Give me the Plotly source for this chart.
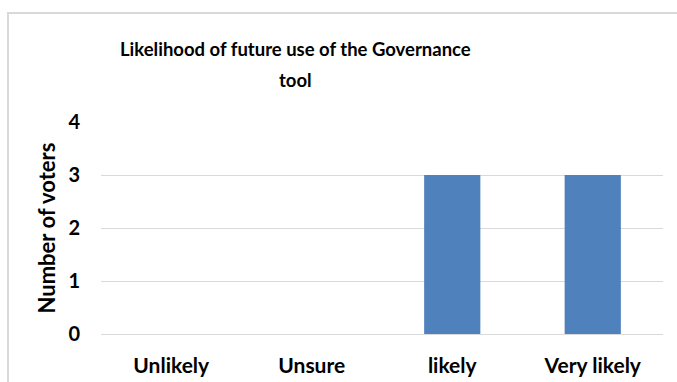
import plotly.graph_objects as go

categories = ["Unlikely", "Unsure", "likely", "Very likely"]
voters = [0, 0, 3, 3]
y_ticks = [0, 1, 2, 3, 4]
title_lines = ["Likelihood of future use of the Governance", "tool"]

FONT = "Lato"
W, H = 677, 382
L, R, T, B = 101, 14, 122, 48
plot_w = W - L - R
plot_h = H - T - B


def px_x(x):
    return (x - L) / plot_w


def px_y(y):
    return (H - B - y) / plot_h


fig = go.Figure(
    go.Bar(
        x=categories,
        y=voters,
        marker=dict(color="#4F81BD", line=dict(width=0)),
        hoverinfo="x+y",
    )
)

# outer chart frame (open to the right and bottom edges)
fig.add_shape(
    type="rect", xref="paper", yref="paper",
    x0=px_x(8), x1=px_x(W + 10),
    y0=px_y(H + 10), y1=px_y(13),
    line=dict(color="#D9D9D9", width=2), fillcolor="rgba(0,0,0,0)",
    layer="below",
)

# two-line chart title
for text, yc in zip(title_lines, [49, 80]):
    fig.add_annotation(
        text=f"<b>{text}</b>", xref="paper", yref="paper",
        x=px_x(295), y=px_y(yc), xanchor="center", yanchor="middle",
        showarrow=False,
        font=dict(family=FONT, size=18.5, color="#000000"),
    )

fig.update_layout(
    width=W, height=H,
    margin=dict(l=L, r=R, t=T, b=B, pad=0, autoexpand=False),
    paper_bgcolor="white", plot_bgcolor="white",
    bargap=0.6,
    showlegend=False,
    font=dict(family=FONT, color="#000000"),
    xaxis=dict(
        automargin=False,
        showgrid=False, showline=False, ticks="",
        ticklabelstandoff=17,
        tickfont=dict(family=FONT, size=21, color="#000000", weight="bold"),
    ),
    yaxis=dict(
        automargin=False,
        range=[0, 4], tickvals=y_ticks,
        showgrid=True, gridcolor="#D9D9D9", gridwidth=1,
        zeroline=True, zerolinecolor="#D9D9D9", zerolinewidth=1,
        showline=False, ticks="", ticklabelstandoff=20,
        tickfont=dict(family=FONT, size=20, color="#000000", weight="bold"),
        title=dict(text="<b>Number of voters</b>", standoff=6,
                   font=dict(family=FONT, size=22, color="#000000")),
    ),
)

fig.write_html("out.html")
